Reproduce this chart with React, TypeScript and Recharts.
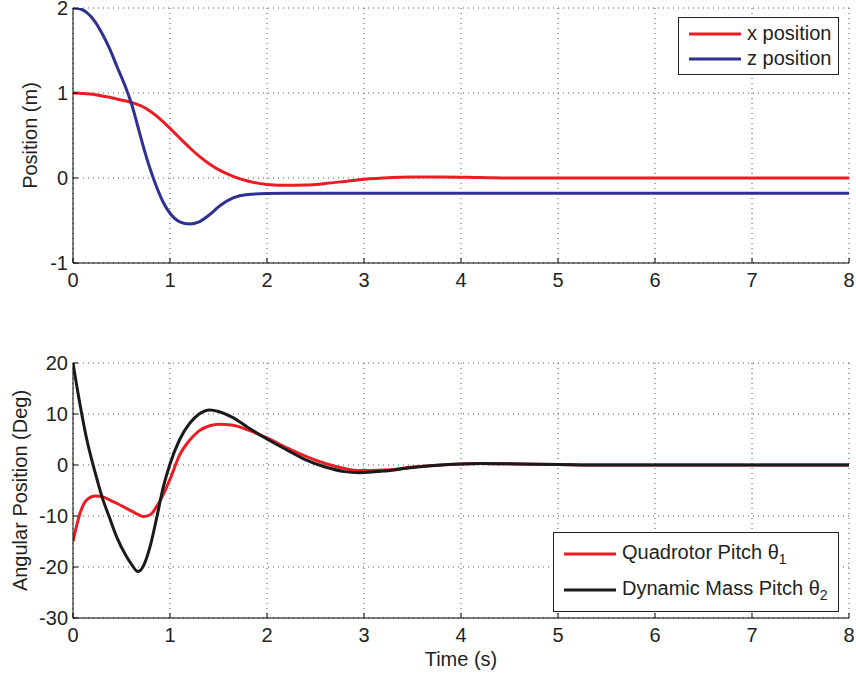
import { LineChart, Line, XAxis, YAxis, CartesianGrid, Legend, Label } from 'recharts';

const time = [0, 0.07, 0.14, 0.23, 0.3, 0.38, 0.45, 0.55, 0.6, 0.67, 0.72, 0.8, 0.86, 0.93, 1.0, 1.1, 1.2, 1.3, 1.41, 1.5, 1.65, 1.8, 2.0, 2.2, 2.4, 2.6, 2.8, 2.95, 3.2, 3.5, 3.8, 4.2, 4.6, 5, 5.5, 6, 7, 8];

// top plot
const xPosition = [1.0, 0.998, 0.99, 0.98, 0.965, 0.95, 0.93, 0.905, 0.89, 0.864, 0.838, 0.782, 0.73, 0.66, 0.584, 0.47, 0.359, 0.257, 0.162, 0.099, 0.02, -0.036, -0.076, -0.086, -0.083, -0.065, -0.04, -0.02, 0.0, 0.012, 0.012, 0.006, 0.0, 0, 0, 0, 0, 0];
const zPosition = [2.0, 1.99, 1.948, 1.835, 1.7, 1.515, 1.32, 1.045, 0.885, 0.6, 0.39, 0.09, -0.1, -0.285, -0.415, -0.515, -0.54, -0.515, -0.43, -0.34, -0.235, -0.195, -0.183, -0.18, -0.18, -0.18, -0.18, -0.18, -0.18, -0.18, -0.18, -0.18, -0.18, -0.18, -0.18, -0.18, -0.18, -0.18];

// bottom plot
const pitchQuad = [-15, -9.6, -6.9, -6.1, -6.2, -6.9, -7.5, -8.5, -9.0, -9.7, -10.1, -9.7, -8.2, -5.8, -2.8, 2.0, 4.8, 6.7, 7.7, 8.0, 7.8, 6.9, 5.3, 3.4, 1.7, 0.3, -0.7, -1.1, -1.0, -0.4, 0.0, 0.3, 0.2, 0.1, 0, 0, 0, 0];
const pitchMass = [20, 12.1, 5.2, -1.6, -6.3, -10.5, -14.1, -17.9, -19.4, -20.9, -20.0, -15.6, -10.6, -4.4, 0.2, 5.0, 8.1, 10.0, 10.8, 10.5, 9.3, 7.4, 5.1, 3.0, 1.0, -0.4, -1.3, -1.5, -1.2, -0.5, 0.0, 0.3, 0.2, 0.1, 0, 0, 0, 0];

const timeTicks = [0, 1, 2, 3, 4, 5, 6, 7, 8];
const posTicks = [-1, 0, 1, 2];
const angTicks = [-30, -20, -10, 0, 10, 20];

const posData = time.map((t, i) => ({ t, x: xPosition[i], z: zPosition[i] }));
const angData = time.map((t, i) => ({ t, q: pitchQuad[i], m: pitchMass[i] }));

const FONT = '"Liberation Sans", Arial, Helvetica, sans-serif';
const TXT = '#231f20';
const RED = '#ed1c24';
const BLUE = '#2e3192';
const BLACK = '#1a1a1a';

const tickStyle = { fill: TXT, fontSize: 20, fontFamily: FONT };

function BoxLegend({ items, width, rowHeight }: any) {
  return (
    <div
      style={{
        border: '1px solid #222',
        background: '#fff',
        width,
        boxSizing: 'border-box',
        padding: '3px 0',
        fontFamily: FONT,
        fontSize: 20,
        color: TXT,
      }}
    >
      {items.map((it: any) => (
        <div key={it.key} style={{ display: 'flex', alignItems: 'center', height: rowHeight, paddingLeft: 10 }}>
          <svg width={52} height={4} style={{ marginRight: 6, flex: 'none' }}>
            <line x1={0} y1={2} x2={52} y2={2} stroke={it.color} strokeWidth={3} />
          </svg>
          <span style={{ whiteSpace: 'nowrap' }}>
            {it.label}
            {it.sub ? <sub style={{ fontSize: 14 }}>{it.sub}</sub> : null}
          </span>
        </div>
      ))}
    </div>
  );
}

const yLabel = (text: string, cx: number) => (props: any) => {
  const vb = props.viewBox;
  const cy = vb.y + vb.height / 2;
  return (
    <text x={cx} y={cy} transform={`rotate(-90 ${cx} ${cy})`} textAnchor="middle" dominantBaseline="central" fill={TXT} fontSize={20} fontFamily={FONT}>
      {text}
    </text>
  );
};

const xLabel = (text: string, cy: number) => (props: any) => {
  const vb = props.viewBox;
  const cx = vb.x + vb.width / 2;
  return (
    <text x={cx} y={cy} textAnchor="middle" dominantBaseline="central" fill={TXT} fontSize={20} fontFamily={FONT}>
      {text}
    </text>
  );
};

export default function App() {
  return (
    <div style={{ position: 'absolute', left: 0, top: 0, width: 856, height: 677, background: '#fff' }}>
      <LineChart width={856} height={300} data={posData} margin={{ top: 8, right: 7, bottom: 7, left: 13 }}>
        <CartesianGrid xAxisId="main" yAxisId="main" stroke="#555" strokeDasharray="1 4" />
        <XAxis xAxisId="main" dataKey="t" type="number" domain={[0, 8]} ticks={timeTicks} interval={0} height={30} tickSize={-5} tickMargin={15} stroke="#000" tick={tickStyle} allowDataOverflow />
        <XAxis xAxisId="top" orientation="top" type="number" domain={[0, 8]} ticks={timeTicks} interval={0} height={0} tickSize={-5} tick={false} stroke="#000" allowDataOverflow />
        <YAxis yAxisId="main" type="number" domain={[-1, 2]} ticks={posTicks} interval={0} width={60} tickSize={-5} tickMargin={10} stroke="#000" tick={tickStyle} allowDataOverflow>
          <Label content={yLabel('Position (m)', 30)} />
        </YAxis>
        <YAxis yAxisId="right" orientation="right" type="number" domain={[-1, 2]} ticks={posTicks} interval={0} width={0} tickSize={-5} tick={false} stroke="#000" allowDataOverflow />
        <Line xAxisId="main" yAxisId="main" dataKey="x" type="monotone" stroke={RED} strokeWidth={3} dot={false} isAnimationActive={false} />
        <Line xAxisId="main" yAxisId="main" dataKey="z" type="monotone" stroke={BLUE} strokeWidth={3} dot={false} isAnimationActive={false} />
        <Legend
          layout="vertical"
          align="center"
          verticalAlign="middle"
          wrapperStyle={{ left: 678, top: 17, width: 161 }}
          content={() => (
            <BoxLegend
              width={161}
              rowHeight={25}
              items={[
                { key: 'x', label: 'x position', color: RED },
                { key: 'z', label: 'z position', color: BLUE },
              ]}
            />
          )}
        />
      </LineChart>
      <LineChart width={856} height={377} data={angData} margin={{ top: 63, right: 7, bottom: 9, left: 13 }}>
        <CartesianGrid xAxisId="main" yAxisId="main" stroke="#555" strokeDasharray="1 4" />
        <XAxis xAxisId="main" dataKey="t" type="number" domain={[0, 8]} ticks={timeTicks} interval={0} height={50} tickSize={-5} tickMargin={15} stroke="#000" tick={tickStyle} allowDataOverflow>
          <Label content={xLabel('Time (s)', 359)} />
        </XAxis>
        <XAxis xAxisId="top" orientation="top" type="number" domain={[0, 8]} ticks={timeTicks} interval={0} height={0} tickSize={-5} tick={false} stroke="#000" allowDataOverflow />
        <YAxis yAxisId="main" type="number" domain={[-30, 20]} ticks={angTicks} interval={0} width={60} tickSize={-5} tickMargin={10} stroke="#000" tick={tickStyle} allowDataOverflow>
          <Label content={yLabel('Angular Position (Deg)', 20)} />
        </YAxis>
        <YAxis yAxisId="right" orientation="right" type="number" domain={[-30, 20]} ticks={angTicks} interval={0} width={0} tickSize={-5} tick={false} stroke="#000" allowDataOverflow />
        <Line xAxisId="main" yAxisId="main" dataKey="q" type="monotone" stroke={RED} strokeWidth={3} dot={false} isAnimationActive={false} />
        <Line xAxisId="main" yAxisId="main" dataKey="m" type="monotone" stroke={BLACK} strokeWidth={3} dot={false} isAnimationActive={false} />
        <Legend
          layout="vertical"
          align="center"
          verticalAlign="middle"
          wrapperStyle={{ left: 553, top: 232, width: 286 }}
          content={() => (
            <BoxLegend
              width={286}
              rowHeight={36}
              items={[
                { key: 'q', label: 'Quadrotor Pitch θ', sub: '1', color: RED },
                { key: 'm', label: 'Dynamic Mass Pitch θ', sub: '2', color: BLACK },
              ]}
            />
          )}
        />
      </LineChart>
    </div>
  );
}
